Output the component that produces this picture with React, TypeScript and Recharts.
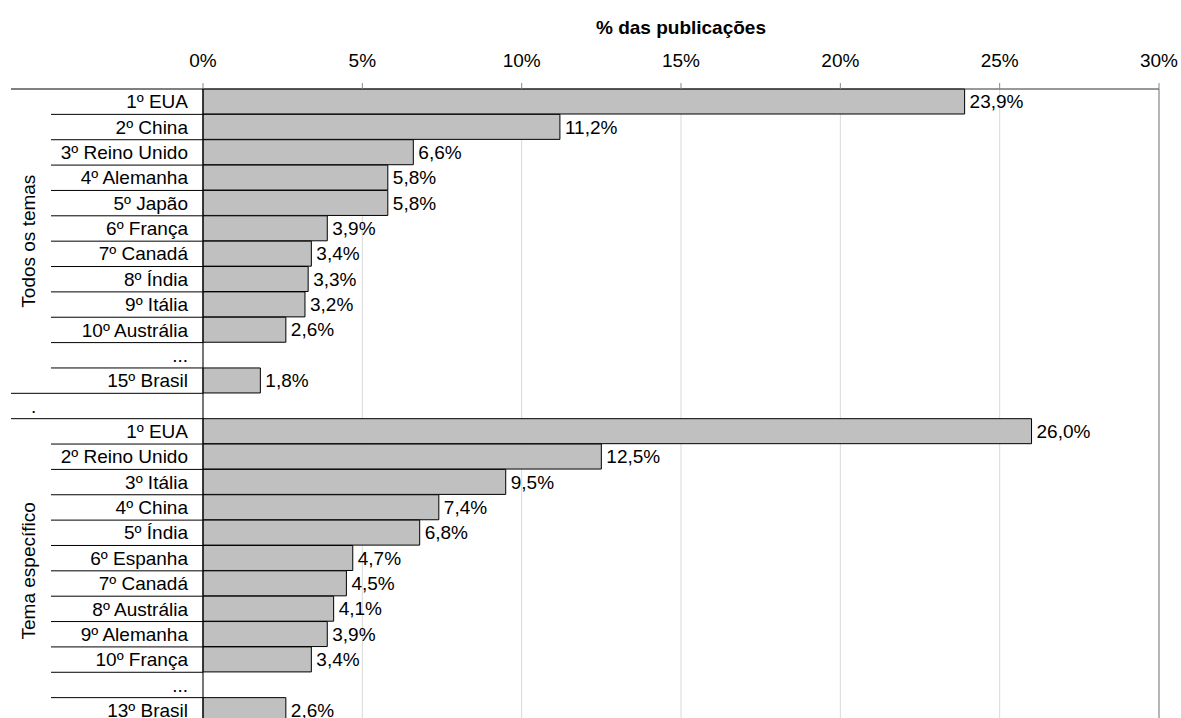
import React from 'react';
import {
  BarChart,
  Bar,
  XAxis,
  YAxis,
  CartesianGrid,
  ReferenceLine,
  LabelList,
} from 'recharts';

const groupNames = ['Todos os temas', 'Tema específico'];

const labelsAll = [
  '1º EUA', '2º China', '3º Reino Unido', '4º Alemanha', '5º Japão', '6º França',
  '7º Canadá', '8º Índia', '9º Itália', '10º Austrália', '...', '15º Brasil',
];
const valuesAll = [23.9, 11.2, 6.6, 5.8, 5.8, 3.9, 3.4, 3.3, 3.2, 2.6, null, 1.8];

const labelsSpecific = [
  '1º EUA', '2º Reino Unido', '3º Itália', '4º China', '5º Índia', '6º Espanha',
  '7º Canadá', '8º Austrália', '9º Alemanha', '10º França', '...', '13º Brasil',
];
const valuesSpecific = [26.0, 12.5, 9.5, 7.4, 6.8, 4.7, 4.5, 4.1, 3.9, 3.4, null, 2.6];

const xTicks = [0, 5, 10, 15, 20, 25, 30];

const FONT = '"Liberation Sans", Arial, sans-serif';
const FS = 19;

// rows: group 1, a "." spacer row, group 2
type Row = { key: string; label: string; value: number | null; group: number; pos: number; size: number };
const rows: Row[] = [
  ...labelsAll.map((l, i) => ({ key: `a${i}`, label: l, value: valuesAll[i], group: 0, pos: i, size: labelsAll.length })),
  { key: 'sep', label: '.', value: null, group: -1, pos: 0, size: 1 },
  ...labelsSpecific.map((l, i) => ({ key: `b${i}`, label: l, value: valuesSpecific[i], group: 1, pos: i, size: labelsSpecific.length })),
];
const rowByKey: Record<string, Row> = {};
rows.forEach((r) => (rowByKey[r.key] = r));

const TOP = 89;
const PLOT_H = 634;
const ROW_H = PLOT_H / rows.length;
const AXIS_X = 203;

const CategoryTick = ({ x, y, payload }: any) => {
  const row = rowByKey[payload.value];
  if (!row) return null;
  const top = y - ROW_H / 2;
  const bottom = y + ROW_H / 2;
  const lastOfGroup = row.group === -1 || row.pos === row.size - 1;
  return (
    <g>
      {row.group === 0 && row.pos === 0 && (
        <line x1={11} x2={AXIS_X} y1={top} y2={top} stroke="#000" />
      )}
      <line x1={lastOfGroup ? 11 : 51} x2={AXIS_X} y1={bottom} y2={bottom} stroke="#000" />
      {row.group === -1 ? (
        <text x={31} y={y} dy="0.35em" fontSize={FS} fontFamily={FONT} fill="#000">
          {row.label}
        </text>
      ) : (
        <text x={188} y={y} dy="0.35em" textAnchor="end" fontSize={FS} fontFamily={FONT} fill="#000">
          {row.label}
        </text>
      )}
      {row.group >= 0 && row.pos === 0 && (
        <text
          x={28}
          y={y + ((row.size - 1) / 2) * ROW_H}
          dy="0.35em"
          textAnchor="middle"
          fontSize={FS}
          fontFamily={FONT}
          fill="#000"
          transform={`rotate(-90, 28, ${y + ((row.size - 1) / 2) * ROW_H})`}
        >
          {groupNames[row.group]}
        </text>
      )}
    </g>
  );
};

const fmt = (v: any) => (v == null ? '' : `${Number(v).toFixed(1).replace('.', ',')}%`);

export default function App() {
  return (
    <div
      style={{
        position: 'fixed',
        left: 0,
        top: 0,
        width: 1181,
        height: 718,
        overflow: 'hidden',
        background: '#fff',
        fontFamily: FONT,
      }}
    >
      <BarChart
        width={1181}
        height={TOP + PLOT_H + 5}
        data={rows}
        layout="vertical"
        barCategoryGap={0}
        margin={{ top: TOP - 30, right: 22, bottom: 5, left: 0 }}
      >
        <CartesianGrid horizontal={false} stroke="#d9d9d9" />
        <XAxis
          type="number"
          orientation="top"
          domain={[0, 30]}
          ticks={xTicks}
          height={30}
          tickSize={6}
          tickMargin={16}
          tickFormatter={(v) => `${v}%`}
          tick={{ fontSize: FS, fontFamily: FONT, fill: '#000' }}
          stroke="#333"
          tickLine={{ stroke: '#888' }}
          label={{
            value: '% das publicações',
            position: 'top',
            offset: 25,
            style: { fontSize: FS, fontWeight: 'bold', fontFamily: FONT, fill: '#000' },
          }}
        />
        <YAxis
          type="category"
          dataKey="key"
          width={AXIS_X}
          tickLine={false}
          axisLine={{ stroke: '#000' }}
          tick={<CategoryTick />}
          interval={0}
        />
        <ReferenceLine x={30} stroke="#808080" />
        <Bar dataKey="value" fill="#c0c0c0" stroke="#000" strokeWidth={1} isAnimationActive={false}>
          <LabelList
            dataKey="value"
            position="right"
            offset={5}
            formatter={fmt}
            style={{ fontSize: FS, fontFamily: FONT, fill: '#000' }}
          />
        </Bar>
      </BarChart>
    </div>
  );
}
